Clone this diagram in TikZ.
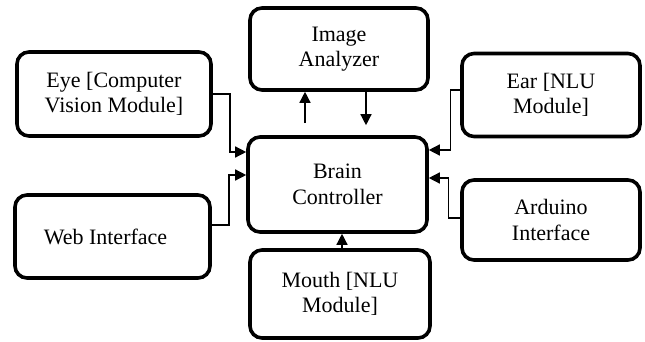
\documentclass[tikz,border=0pt]{standalone}
\usepackage{fontspec}
\setmainfont{Liberation Serif}
\usetikzlibrary{arrows.meta}
\begin{document}
\begin{tikzpicture}[x=1pt,y=-1pt,
  module/.style={draw, line width=3.6pt, rounded corners=12pt, align=center,
    inner sep=0pt, font=\fontsize{22}{25.5}\selectfont},
  conn/.style={line width=1.4pt, -{Triangle[length=11pt,width=11pt]}}]
\useasboundingbox (0,0) rectangle (645,342);

% modules
\node[module, minimum width=178pt, minimum height=82pt] (ia)    at (339,49)    {Image\\Analyzer};
\node[module, minimum width=194pt, minimum height=84pt] (eye)   at (114,94)    {Eye [Computer\\Vision Module]};
\node[module, minimum width=178pt, minimum height=83pt] (ear)   at (551,95)    {Ear [NLU\\Module]};
\node[module, minimum width=179pt, minimum height=95pt] (brain) at (337.5,184.5) {Brain\\Controller};
\node[module, minimum width=195pt, minimum height=83pt] (web)   at (112.5,236.5) {Web Interface\kern14pt};
\node[module, minimum width=178pt, minimum height=80pt] (ard)   at (551,220)   {Arduino\\Interface};
\node[module, minimum width=180pt, minimum height=88pt] (mouth) at (340,294)   {Mouth [NLU\\Module]};

% inputs to the brain
\draw[conn] (eye.east) -- ++(17,0) |- ([yshift=32.5pt]brain.west);
\draw[conn] ([yshift=11.5pt]web.east) -- ++(17,0) |- ([yshift=9.5pt]brain.west);
\draw[conn] ([yshift=5pt]ear.west) -- ++(-10,0) |- ([yshift=34.5pt]brain.east);
\draw[conn] ([yshift=2pt]ard.west) -- ++(-12,0) |- ([yshift=6.5pt]brain.east);
\draw[conn] ([xshift=2pt]mouth.north) -- ([xshift=2pt]mouth.north |- brain.south);

% exchange with the image analyzer
\coordinate (upfoot)   at ([xshift=-32.5pt,yshift=12pt]brain.north);
\coordinate (downtip)  at ([xshift=28.5pt,yshift=10pt]brain.north);
\draw[conn] (upfoot) -- (upfoot |- ia.south);
\draw[conn] (downtip |- ia.south) -- (downtip);
\end{tikzpicture}
\end{document}
